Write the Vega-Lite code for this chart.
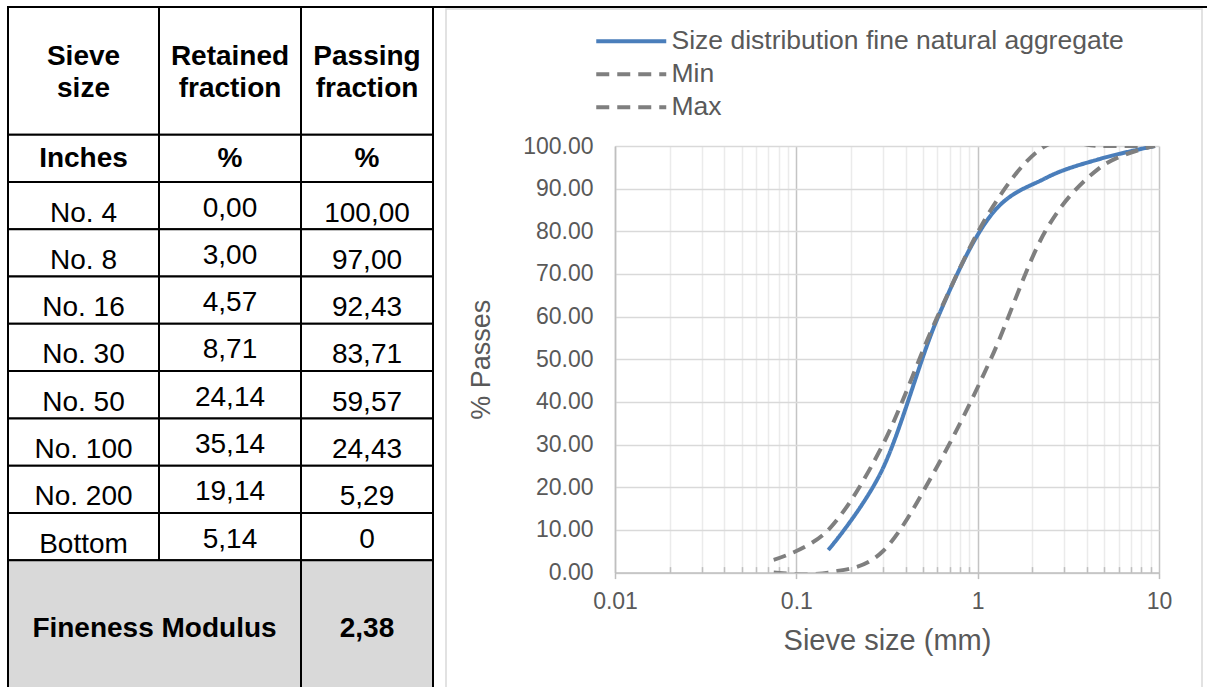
{
  "$schema": "https://vega.github.io/schema/vega-lite/v6.json",
  "padding": {"left": 7, "top": 6, "right": 0, "bottom": 0},
  "bounds": "flush",
  "spacing": 182,
  "config": {
    "view": {"stroke": null},
    "font": "Liberation Sans"
  },
  "datasets": {
    "cells": [
      {"c": 0, "x0": 0, "x1": 151, "y0": 0, "y1": 2.7, "t": "Sieve\nsize", "section": "head"},
      {"c": 1, "x0": 151, "x1": 293, "y0": 0, "y1": 2.7, "t": "Retained\nfraction", "section": "head"},
      {"c": 2, "x0": 293, "x1": 425, "y0": 0, "y1": 2.7, "t": "Passing\nfraction", "section": "head"},
      {"c": 0, "x0": 0, "x1": 151, "y0": 2.7, "y1": 3.7, "t": "Inches", "section": "units"},
      {"c": 1, "x0": 151, "x1": 293, "y0": 2.7, "y1": 3.7, "t": "%", "section": "units"},
      {"c": 2, "x0": 293, "x1": 425, "y0": 2.7, "y1": 3.7, "t": "%", "section": "units"},
      {"c": 0, "x0": 0, "x1": 151, "y0": 3.7, "y1": 4.7, "t": "No. 4", "section": "body"},
      {"c": 1, "x0": 151, "x1": 293, "y0": 3.7, "y1": 4.7, "t": "0,00", "section": "body"},
      {"c": 2, "x0": 293, "x1": 425, "y0": 3.7, "y1": 4.7, "t": "100,00", "section": "body"},
      {"c": 0, "x0": 0, "x1": 151, "y0": 4.7, "y1": 5.7, "t": "No. 8", "section": "body"},
      {"c": 1, "x0": 151, "x1": 293, "y0": 4.7, "y1": 5.7, "t": "3,00", "section": "body"},
      {"c": 2, "x0": 293, "x1": 425, "y0": 4.7, "y1": 5.7, "t": "97,00", "section": "body"},
      {"c": 0, "x0": 0, "x1": 151, "y0": 5.7, "y1": 6.7, "t": "No. 16", "section": "body"},
      {"c": 1, "x0": 151, "x1": 293, "y0": 5.7, "y1": 6.7, "t": "4,57", "section": "body"},
      {"c": 2, "x0": 293, "x1": 425, "y0": 5.7, "y1": 6.7, "t": "92,43", "section": "body"},
      {"c": 0, "x0": 0, "x1": 151, "y0": 6.7, "y1": 7.7, "t": "No. 30", "section": "body"},
      {"c": 1, "x0": 151, "x1": 293, "y0": 6.7, "y1": 7.7, "t": "8,71", "section": "body"},
      {"c": 2, "x0": 293, "x1": 425, "y0": 6.7, "y1": 7.7, "t": "83,71", "section": "body"},
      {"c": 0, "x0": 0, "x1": 151, "y0": 7.7, "y1": 8.7, "t": "No. 50", "section": "body"},
      {"c": 1, "x0": 151, "x1": 293, "y0": 7.7, "y1": 8.7, "t": "24,14", "section": "body"},
      {"c": 2, "x0": 293, "x1": 425, "y0": 7.7, "y1": 8.7, "t": "59,57", "section": "body"},
      {"c": 0, "x0": 0, "x1": 151, "y0": 8.7, "y1": 9.7, "t": "No. 100", "section": "body"},
      {"c": 1, "x0": 151, "x1": 293, "y0": 8.7, "y1": 9.7, "t": "35,14", "section": "body"},
      {"c": 2, "x0": 293, "x1": 425, "y0": 8.7, "y1": 9.7, "t": "24,43", "section": "body"},
      {"c": 0, "x0": 0, "x1": 151, "y0": 9.7, "y1": 10.7, "t": "No. 200", "section": "body"},
      {"c": 1, "x0": 151, "x1": 293, "y0": 9.7, "y1": 10.7, "t": "19,14", "section": "body"},
      {"c": 2, "x0": 293, "x1": 425, "y0": 9.7, "y1": 10.7, "t": "5,29", "section": "body"},
      {"c": 0, "x0": 0, "x1": 151, "y0": 10.7, "y1": 11.7, "t": "Bottom", "section": "body"},
      {"c": 1, "x0": 151, "x1": 293, "y0": 10.7, "y1": 11.7, "t": "5,14", "section": "body"},
      {"c": 2, "x0": 293, "x1": 425, "y0": 10.7, "y1": 11.7, "t": "0", "section": "body"},
      {"c": 0, "x0": 0, "x1": 293, "y0": 11.7, "y1": 14.56, "t": "Fineness Modulus", "section": "summary"},
      {"c": 2, "x0": 293, "x1": 425, "y0": 11.7, "y1": 14.56, "t": "2,38", "section": "summary"}
    ],
    "decor": [
      {"kind": "frame", "x0": 438, "x1": 1194, "y0": 0.04, "y1": 14.7},
      {"kind": "outer", "x0": 425, "x1": 1199, "y0": 0, "y1": 0}
    ],
    "grading": [
      {"series": "Size distribution fine natural aggregate", "size": 0.15, "pass": 5.29},
      {"series": "Size distribution fine natural aggregate", "size": 0.3, "pass": 24.43},
      {"series": "Size distribution fine natural aggregate", "size": 0.6, "pass": 59.57},
      {"series": "Size distribution fine natural aggregate", "size": 1.18, "pass": 83.71},
      {"series": "Size distribution fine natural aggregate", "size": 2.36, "pass": 92.43},
      {"series": "Size distribution fine natural aggregate", "size": 4.75, "pass": 97},
      {"series": "Size distribution fine natural aggregate", "size": 9.5, "pass": 100},
      {"series": "Min", "size": 0.075, "pass": 0},
      {"series": "Min", "size": 0.15, "pass": 0},
      {"series": "Min", "size": 0.3, "pass": 5},
      {"series": "Min", "size": 0.6, "pass": 25},
      {"series": "Min", "size": 1.18, "pass": 50},
      {"series": "Min", "size": 2.36, "pass": 80},
      {"series": "Min", "size": 4.75, "pass": 95},
      {"series": "Min", "size": 9.5, "pass": 100},
      {"series": "Max", "size": 0.075, "pass": 3},
      {"series": "Max", "size": 0.15, "pass": 10},
      {"series": "Max", "size": 0.3, "pass": 30},
      {"series": "Max", "size": 0.6, "pass": 60},
      {"series": "Max", "size": 1.18, "pass": 85},
      {"series": "Max", "size": 2.36, "pass": 100},
      {"series": "Max", "size": 4.75, "pass": 100},
      {"series": "Max", "size": 9.5, "pass": 100}
    ]
  },
  "hconcat": [
    {
      "width": 425,
      "height": 680,
      "layer": [
        {
          "data": {"name": "decor"},
          "transform": [{"filter": "datum.kind == 'frame'"}],
          "mark": {"type": "rect", "fill": null, "stroke": "#d9d9d9", "strokeWidth": 1.5},
          "encoding": {
            "x": {"field": "x0", "type": "quantitative", "scale": {"domain": [0, 425], "nice": false, "zero": false}, "axis": null},
            "x2": {"field": "x1"},
            "y": {"field": "y0", "type": "quantitative", "scale": {"domain": [0, 14.38], "reverse": true, "nice": false, "zero": false}, "axis": null},
            "y2": {"field": "y1"}
          }
        },
        {
          "data": {"name": "decor"},
          "transform": [{"filter": "datum.kind == 'outer'"}],
          "mark": {"type": "rule", "stroke": "black", "strokeWidth": 2},
          "encoding": {
            "x": {"field": "x0", "type": "quantitative", "scale": {"domain": [0, 425], "nice": false, "zero": false}, "axis": null},
            "x2": {"field": "x1"},
            "y": {"field": "y0", "type": "quantitative", "scale": {"domain": [0, 14.38], "reverse": true, "nice": false, "zero": false}, "axis": null}
          }
        },
        {
          "data": {"name": "cells"},
          "mark": {"type": "rect", "stroke": "black", "strokeWidth": 2},
          "encoding": {
            "x": {"field": "x0", "type": "quantitative", "scale": {"domain": [0, 425], "nice": false, "zero": false}, "axis": null},
            "x2": {"field": "x1"},
            "y": {"field": "y0", "type": "quantitative", "scale": {"domain": [0, 14.38], "reverse": true, "nice": false, "zero": false}, "axis": null},
            "y2": {"field": "y1"},
            "fill": {"condition": {"test": "datum.section == 'summary'", "value": "#d9d9d9"}, "value": "white"}
          }
        },
        {
          "data": {"name": "cells"},
          "transform": [
            {"filter": "datum.section == 'head'"},
            {"calculate": "(datum.x0 + datum.x1) / 2", "as": "xm"},
            {"calculate": "(datum.y0 + datum.y1) / 2", "as": "ym"}
          ],
          "mark": {"type": "text", "font": "Liberation Sans", "fontSize": 28, "fontWeight": "bold", "lineBreak": "\n", "lineHeight": 32, "dy": -14, "color": "black"},
          "encoding": {
            "x": {"field": "xm", "type": "quantitative", "scale": {"domain": [0, 425], "nice": false, "zero": false}, "axis": null},
            "y": {"field": "ym", "type": "quantitative", "scale": {"domain": [0, 14.38], "reverse": true, "nice": false, "zero": false}, "axis": null},
            "text": {"field": "t"}
          }
        },
        {
          "data": {"name": "cells"},
          "transform": [
            {"filter": "datum.section == 'units' || datum.section == 'summary'"},
            {"calculate": "(datum.x0 + datum.x1) / 2", "as": "xm"},
            {"calculate": "(datum.y0 + datum.y1) / 2", "as": "ym"}
          ],
          "mark": {"type": "text", "font": "Liberation Sans", "fontSize": 28, "fontWeight": "bold", "dy": 1, "color": "black"},
          "encoding": {
            "x": {"field": "xm", "type": "quantitative", "scale": {"domain": [0, 425], "nice": false, "zero": false}, "axis": null},
            "y": {"field": "ym", "type": "quantitative", "scale": {"domain": [0, 14.38], "reverse": true, "nice": false, "zero": false}, "axis": null},
            "text": {"field": "t"}
          }
        },
        {
          "data": {"name": "cells"},
          "transform": [
            {"filter": "datum.section == 'body' && datum.c != 1 && datum.t != '0'"},
            {"calculate": "(datum.x0 + datum.x1) / 2", "as": "xm"},
            {"calculate": "(datum.y0 + datum.y1) / 2", "as": "ym"}
          ],
          "mark": {"type": "text", "font": "Liberation Sans", "fontSize": 28, "dy": 8, "color": "black"},
          "encoding": {
            "x": {"field": "xm", "type": "quantitative", "scale": {"domain": [0, 425], "nice": false, "zero": false}, "axis": null},
            "y": {"field": "ym", "type": "quantitative", "scale": {"domain": [0, 14.38], "reverse": true, "nice": false, "zero": false}, "axis": null},
            "text": {"field": "t"}
          }
        },
        {
          "data": {"name": "cells"},
          "transform": [
            {"filter": "datum.section == 'body' && (datum.c == 1 || datum.t == '0')"},
            {"calculate": "(datum.x0 + datum.x1) / 2", "as": "xm"},
            {"calculate": "(datum.y0 + datum.y1) / 2", "as": "ym"}
          ],
          "mark": {"type": "text", "font": "Liberation Sans", "fontSize": 28, "dy": 3, "color": "black"},
          "encoding": {
            "x": {"field": "xm", "type": "quantitative", "scale": {"domain": [0, 425], "nice": false, "zero": false}, "axis": null},
            "y": {"field": "ym", "type": "quantitative", "scale": {"domain": [0, 14.38], "reverse": true, "nice": false, "zero": false}, "axis": null},
            "text": {"field": "t"}
          }
        }
      ]
    },
    {
      "bounds": "flush",
      "spacing": 0,
      "vconcat": [
        {
          "width": 544,
          "height": 138.7,
          "data": {"values": []},
          "mark": "point",
          "encoding": {}
        },
        {
          "width": 544,
          "height": 426.6,
          "data": {"name": "grading"},
          "mark": {"type": "line", "interpolate": "cardinal", "tension": 0, "clip": true, "strokeWidth": 4, "strokeCap": "butt"},
          "encoding": {
            "x": {
              "field": "size",
              "type": "quantitative",
              "scale": {"type": "log", "domain": [0.01, 10], "nice": false},
              "axis": {
                "title": "Sieve size (mm)",
                "values": [0.01, 0.02, 0.03, 0.04, 0.05, 0.06, 0.07, 0.08, 0.09, 0.1, 0.2, 0.3, 0.4, 0.5, 0.6, 0.7, 0.8, 0.9, 1, 2, 3, 4, 5, 6, 7, 8, 9, 10],
                "format": "~g",
                "labelExpr": "indexof([0.01, 0.1, 1, 10], datum.value) >= 0 ? datum.label : ''",
                "labelOverlap": false,
                "labelFlush": false,
                "labelBound": false,
                "labelFontSize": 23,
                "labelColor": "#595959",
                "labelPadding": 12,
                "grid": true,
                "gridColor": {"condition": {"test": "indexof([0.01, 0.1, 1, 10], datum.value) >= 0", "value": "#c4c4c4"}, "value": "#ebebeb"},
                "gridWidth": 1.5,
                "tickColor": "#bfbfbf",
                "tickWidth": 1.5,
                "tickSize": {"condition": {"test": "indexof([0.01, 0.1, 1, 10], datum.value) >= 0", "value": 6}, "value": -6},
                "domainColor": "#bfbfbf",
                "domainWidth": 1.5,
                "titleFontSize": 29,
                "titleFontWeight": "normal",
                "titleColor": "#595959",
                "titlePadding": 13
              }
            },
            "y": {
              "field": "pass",
              "type": "quantitative",
              "scale": {"domain": [0, 100], "nice": false},
              "axis": {
                "title": "% Passes",
                "values": [0, 10, 20, 30, 40, 50, 60, 70, 80, 90, 100],
                "format": ".2f",
                "ticks": false,
                "labelFontSize": 23,
                "labelColor": "#595959",
                "labelPadding": 22,
                "grid": true,
                "gridColor": "#d9d9d9",
                "gridWidth": 1.5,
                "domainColor": "#bfbfbf",
                "domainWidth": 1.5,
                "titleFontSize": 27,
                "titleFontWeight": "normal",
                "titleColor": "#595959",
                "titlePadding": 27
              }
            },
            "color": {
              "field": "series",
              "type": "nominal",
              "scale": {"domain": ["Size distribution fine natural aggregate", "Min", "Max"], "range": ["#4a7ebb", "#7f7f7f", "#7f7f7f"]},
              "legend": {"title": null, "orient": "none", "legendX": 582, "legendY": 21, "padding": 0, "symbolType": "M-1,0H9", "symbolSize": 196, "symbolStrokeWidth": 4, "labelFontSize": 26.5, "labelColor": "#595959", "labelOffset": 55, "labelLimit": 0, "rowPadding": 6}
            },
            "strokeDash": {
              "field": "series",
              "type": "nominal",
              "scale": {"domain": ["Size distribution fine natural aggregate", "Min", "Max"], "range": [[1, 0], [13, 8], [13, 8]]},
              "legend": {"title": null, "orient": "none", "legendX": 582, "legendY": 21, "padding": 0, "symbolType": "M-1,0H9", "symbolSize": 196, "symbolStrokeWidth": 4, "labelFontSize": 26.5, "labelColor": "#595959", "labelOffset": 55, "labelLimit": 0, "rowPadding": 6}
            }
          }
        }
      ]
    }
  ]
}
